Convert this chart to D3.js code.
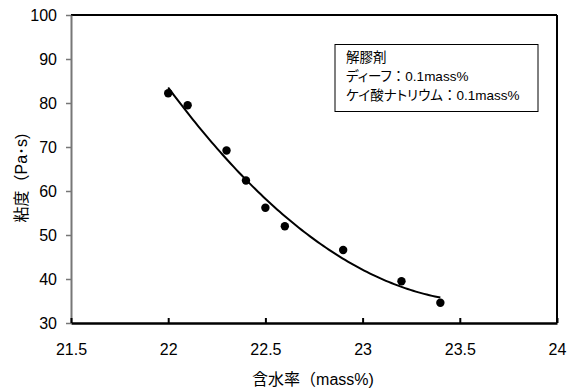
<!DOCTYPE html>
<html>
<head>
<meta charset="utf-8">
<script src="https://cdn.jsdelivr.net/npm/d3@7"></script>
<style>
body { margin: 0; background: #fff; }
svg text { font-family: "Liberation Sans", "Noto Sans CJK JP", sans-serif; fill: #000; }
</style>
</head>
<body>
<svg id="chart" width="568" height="391"></svg>
<script>
// データ
var moisture = [22.0, 22.1, 22.3, 22.4, 22.5, 22.6, 22.9, 23.2, 23.4];   // 含水率 (mass%)
var viscosity = [82.2, 79.5, 69.2, 62.4, 56.2, 52.0, 46.6, 39.5, 34.6];  // 粘度 (Pa·s)
var xTicks = [21.5, 22, 22.5, 23, 23.5, 24];
var yTicks = [30, 40, 50, 60, 70, 80, 90, 100];
var legendLines = ["解膠剤", "ディーフ：0.1mass%", "ケイ酸ナトリウム：0.1mass%"];

var svg = d3.select("#chart");
var mLeft = 71, mRight = 557, mTop = 15, mBottom = 323;

var x = d3.scaleLinear().domain([21.5, 24]).range([mLeft, mRight]);
var y = d3.scaleLinear().domain([30, 100]).range([mBottom, mTop]);

// 2次の近似曲線（最小二乗法）
function quadFit(xs, ys) {
  var n = xs.length, s = [0, 0, 0, 0, 0], t = [0, 0, 0];
  for (var i = 0; i < n; i++) {
    var p = 1;
    for (var k = 0; k < 5; k++) { s[k] += p; if (k < 3) t[k] += p * ys[i]; p *= xs[i]; }
  }
  var A = [[s[0], s[1], s[2], t[0]], [s[1], s[2], s[3], t[1]], [s[2], s[3], s[4], t[2]]];
  for (var c = 0; c < 3; c++) {
    for (var r = c + 1; r < 3; r++) {
      var f = A[r][c] / A[c][c];
      for (var j = c; j < 4; j++) A[r][j] -= f * A[c][j];
    }
  }
  var b = [0, 0, 0];
  for (var r2 = 2; r2 >= 0; r2--) {
    var sum = A[r2][3];
    for (var j2 = r2 + 1; j2 < 3; j2++) sum -= A[r2][j2] * b[j2];
    b[r2] = sum / A[r2][r2];
  }
  return b;
}
var coef = quadFit(moisture, viscosity);
var fitPts = d3.range(0, 101).map(function (i) {
  var xv = 22.0 + (23.4 - 22.0) * i / 100;
  return [xv, coef[0] + coef[1] * xv + coef[2] * xv * xv];
});

// 枠線（上・右）
svg.append("line").attr("x1", mLeft).attr("x2", mRight).attr("y1", mTop).attr("y2", mTop)
  .attr("stroke", "#000").attr("stroke-width", 2);
svg.append("line").attr("x1", mRight).attr("x2", mRight).attr("y1", mTop).attr("y2", mBottom)
  .attr("stroke", "#000").attr("stroke-width", 2);

// Y軸
var yAxis = svg.append("g").attr("transform", "translate(" + mLeft + ",0)")
  .call(d3.axisLeft(y).tickValues(yTicks).tickSize(5).tickSizeOuter(0).tickPadding(9));
yAxis.select(".domain").attr("stroke", "#777").attr("stroke-width", 2);
yAxis.selectAll(".tick line").attr("stroke", "#777").attr("stroke-width", 1.5);
yAxis.selectAll(".tick text").attr("font-size", 16).style("font-family", "Liberation Sans");

// X軸（目盛りは内側）
var xAxis = svg.append("g").attr("transform", "translate(0," + mBottom + ")")
  .call(d3.axisBottom(x).tickValues(xTicks).tickFormat(d3.format("")).tickSize(-5).tickSizeOuter(0).tickPadding(21));
xAxis.select(".domain").attr("stroke", "#000").attr("stroke-width", 2.5);
xAxis.selectAll(".tick line").attr("stroke", "#000").attr("stroke-width", 2);
xAxis.selectAll(".tick text").attr("font-size", 16).style("font-family", "Liberation Sans");

// 近似曲線
svg.append("path").datum(fitPts)
  .attr("d", d3.line().x(function (d) { return x(d[0]); }).y(function (d) { return y(d[1]); }))
  .attr("fill", "none").attr("stroke", "#000").attr("stroke-width", 2);

// データ点
svg.selectAll("circle.pt").data(moisture).enter().append("circle")
  .attr("class", "pt")
  .attr("cx", function (d) { return x(d); })
  .attr("cy", function (d, i) { return y(viscosity[i]); })
  .attr("r", 4.2).attr("fill", "#000");

// 凡例ボックス
svg.append("rect").attr("x", 335).attr("y", 44.5).attr("width", 203).attr("height", 67)
  .attr("fill", "#fff").attr("stroke", "#000").attr("stroke-width", 1);
var leg = svg.selectAll("text.leg").data(legendLines).enter().append("text")
  .attr("class", "leg")
  .attr("x", 346).attr("y", function (d, i) { return 62 + i * 19; })
  .attr("font-size", 13.5);
// コロンは全角幅のまま、カナはプロポーショナルに
leg.each(function (d) {
  var parts = d.split("：");
  var t = d3.select(this);
  parts.forEach(function (p, k) {
    if (k > 0) t.append("tspan").style("font-feature-settings", "normal").text("：");
    t.append("tspan").style("font-feature-settings", "'palt'").text(p);
  });
});

// 軸タイトル
svg.append("text").attr("x", 313).attr("y", 385).attr("text-anchor", "middle")
  .attr("font-size", 16).text("含水率（mass%)");
svg.append("text").attr("transform", "translate(27,178) rotate(-90)")
  .attr("text-anchor", "middle").attr("font-size", 16).text("粘度（Pa･s)");
</script>
</body>
</html>
